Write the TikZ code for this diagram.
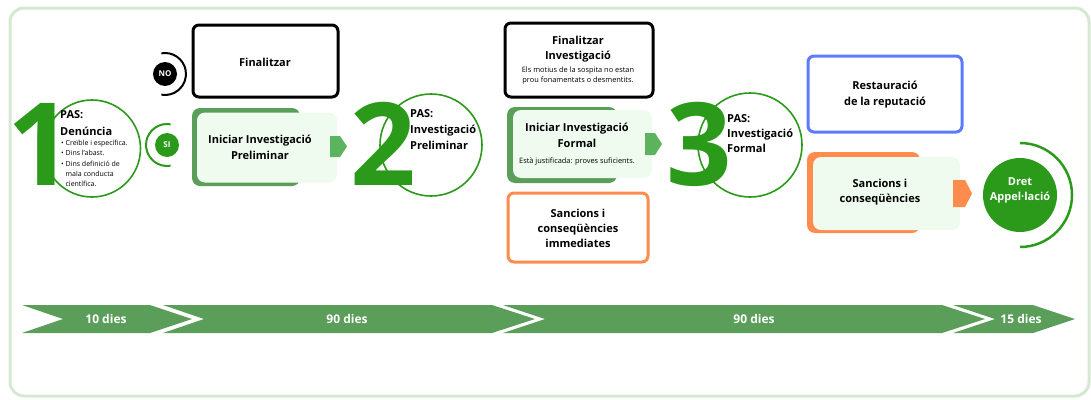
\documentclass[tikz,border=0pt]{standalone}
\usepackage{fontspec}
\setmainfont{Open Sans}
\definecolor{dg}{HTML}{2B9A1B}
\definecolor{bar}{HTML}{5A9E5A}
\definecolor{chev}{HTML}{5DB35D}
\definecolor{lite}{HTML}{EFFBEF}
\definecolor{org}{HTML}{FF8C4C}
\definecolor{blu}{HTML}{5B7BFF}
\definecolor{framec}{HTML}{D5E8D3}
\begin{document}
\begin{tikzpicture}[x=1pt,y=-1pt,
  lbl/.style={font=\bfseries\fontsize{11}{16}\selectfont, align=center, inner sep=0pt},
  small/.style={font=\fontsize{7.4}{10.5}\selectfont, align=center, inner sep=0pt},
  digit/.style={font=\bfseries\fontsize{115}{115}\selectfont, text=dg, inner sep=0pt},
  stepring/.style={draw=dg, line width=1.6pt, fill=white},
  outbox/.style={rectangle, rounded corners=6pt, line width=3pt, fill=white, inner sep=0pt},
  litebox/.style={rectangle, rounded corners=8pt, fill=lite, inner sep=0pt},
  seg/.style={fill=bar},
  daytext/.style={font=\bfseries\fontsize{12}{12}\selectfont, text=white, inner sep=0pt},
  dot/.style={circle, inner sep=0pt, minimum size=24pt, text=white, font=\bfseries\fontsize{8}{8}\selectfont}]
\useasboundingbox (0,0) rectangle (1091,399);
\draw[framec, line width=3pt, rounded corners=14pt] (10,8) rectangle (1089,396);

% ---------- step 1 ----------
\draw[stepring] (92,148.5) circle[radius=48.5pt];
\node[digit] (d1) at (40,144) {1};
\node[lbl, align=left, anchor=west, font=\bfseries\fontsize{11}{16.5}\selectfont] (t1) at (60,123) {PAS:\\Denúncia};
\node[anchor=west, align=left, inner sep=0pt, font=\fontsize{7}{10.2}\selectfont] (b1) at (61,163.5)
  {\textbullet\ Creïble i específica.\\\textbullet\ Dins l'abast.\\\textbullet\ Dins definició de\\\phantom{\textbullet\ }mala conducta\\\phantom{\textbullet\ }científica.};

\node[dot, fill=black] (no) at (165,74) {NO};
\draw[black, line width=2pt] (165,74) ++(100:21pt) arc[start angle=100, end angle=-100, radius=21pt];
\node[dot, fill=dg] (si) at (167,145) {SI};
\draw[dg, line width=2pt] (167,145) ++(80:21pt) arc[start angle=80, end angle=280, radius=21pt];

\node[outbox, draw=black, minimum width=145pt, minimum height=72pt] (fin1) at (265.5,61) {};
\node[lbl] (fin1t) at (265,62) {Finalitzar};

\fill[bar, rounded corners=8pt] (192,108) rectangle (300,186);
\node[litebox, minimum width=140pt, minimum height=70pt] (ini1) at (267,147.5) {};
\node[lbl] (ini1t) at (260,147) {Iniciar Investigació\\Preliminar};
\fill[chev] (330,136) -- (340,136) -- (347,146.5) -- (340,157) -- (330,157) -- cycle;

% ---------- step 2 ----------
\draw[stepring] (431,145) circle[radius=51pt];
\node[digit] (d2) at (383,143.5) {2};
\node[lbl, align=left, anchor=west] (t2) at (410,130) {PAS:\\Investigació\\Preliminar};

\node[outbox, draw=black, minimum width=148pt, minimum height=74pt] (fin2) at (579,60) {};
\node[lbl, font=\bfseries\fontsize{11}{15}\selectfont] (fin2t) at (578,49) {Finalitzar\\Investigació};
\node[small] (fin2s) at (578,75.5) {Els motius de la sospita no estan\\prou fonamentats o desmentits.};

\fill[bar, rounded corners=8pt] (507,107) rectangle (617,183);
\node[litebox, minimum width=139pt, minimum height=68pt] (ini2) at (582.5,144) {};
\node[lbl] (ini2t) at (577,135) {Iniciar Investigació\\Formal};
\node[small] (ini2s) at (577,162) {Està justificada: proves suficients.};
\fill[chev] (645,133) -- (655,133) -- (662,144) -- (655,155) -- (645,155) -- cycle;

\node[outbox, draw=org, minimum width=140pt, minimum height=69pt] (sanc1) at (578,227.5) {};
\node[lbl, font=\bfseries\fontsize{11}{15}\selectfont] (sanc1t) at (578,228) {Sancions i\\conseqüències\\immediates};

% ---------- step 3 ----------
\draw[stepring] (750,145) circle[radius=52pt];
\node[digit] (d3) at (699,144.5) {3};
\node[lbl, align=left, anchor=west, font=\bfseries\fontsize{11}{15}\selectfont] (t3) at (727,133.5) {PAS:\\Investigació\\Formal};

\node[outbox, draw=blu, minimum width=154pt, minimum height=76pt] (rest) at (885,94) {};
\node[lbl] (restt) at (885,95) {Restauració\\de la reputació};

\fill[org, rounded corners=8pt] (807,152) rectangle (920,233);
\node[litebox, minimum width=147pt, minimum height=73pt] (sanc2) at (886.5,193.5) {};
\node[lbl, font=\bfseries\fontsize{11}{15}\selectfont] (sanc2t) at (880,192.5) {Sancions i\\conseqüències};
\fill[org] (953,180) -- (965,180) -- (972,193.5) -- (965,207) -- (953,207) -- cycle;

\node[circle, fill=dg, minimum size=74pt, inner sep=0pt] (dret) at (1020,195) {};
\node[lbl, text=white, font=\bfseries\fontsize{11}{15}\selectfont] (drett) at (1020,190.5) {Dret\\Appel·lació};
\draw[dg, line width=2.5pt] (1020,195) ++(90:52pt) arc[start angle=90, end angle=-90, radius=52pt];

% ---------- timeline ----------
\fill[seg] (22,305) -- (150,305) -- (192,319) -- (150,333) -- (22,333) -- (63,319) -- cycle;
\fill[seg] (163,305) -- (492,305) -- (535,319) -- (492,333) -- (163,333) -- (204,319) -- cycle;
\fill[seg] (503,305) -- (942,305) -- (985,319) -- (942,333) -- (503,333) -- (545,319) -- cycle;
\fill[seg] (953,305) -- (1033,305) -- (1075,319) -- (1033,333) -- (953,333) -- (995,319) -- cycle;
\node[daytext] (p1) at (106,319) {10 dies};
\node[daytext] (p2) at (347,319) {90 dies};
\node[daytext] (p3) at (754,319) {90 dies};
\node[daytext] (p4) at (1021,319) {15 dies};
\end{tikzpicture}
\end{document}
